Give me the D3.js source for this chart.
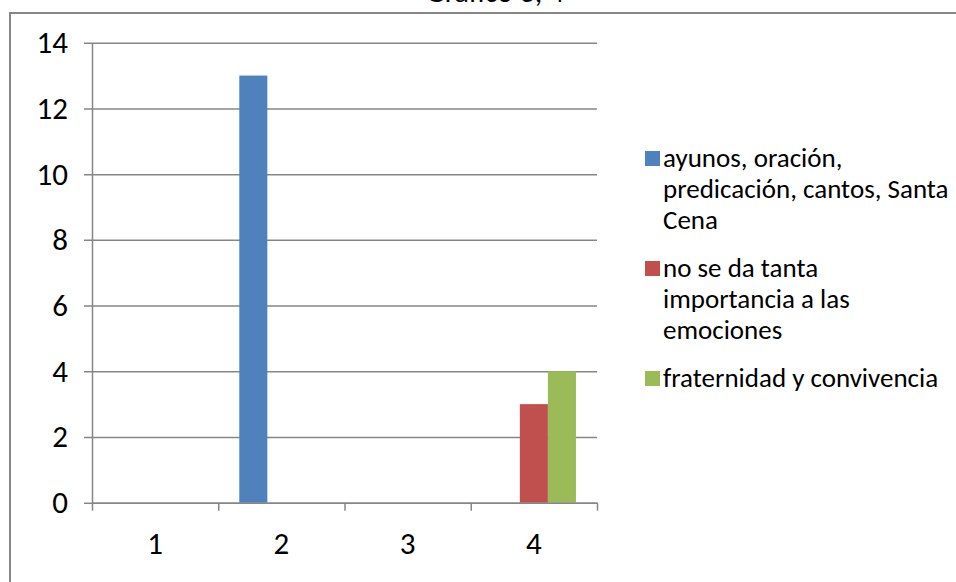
<!DOCTYPE html>
<html>
<head>
<meta charset="utf-8">
<script src="https://cdn.jsdelivr.net/npm/d3@7"></script>
<style>
  body { margin: 0; background: #fff; }
  svg { display: block; font-family: Carlito, Calibri, Lato, sans-serif; }
</style>
</head>
<body>
<script>
// Data
const title = "Gráfico 3, 4";
const categories = ["1", "2", "3", "4"];
const seriesNames = [
  ["ayunos, oración,", "predicación, cantos, Santa", "Cena"],
  ["no se da tanta", "importancia a las", "emociones"],
  ["fraternidad y convivencia"],
];
const seriesValues = [
  [0, 13, 0, 0],
  [0, 0, 0, 3],
  [0, 0, 0, 4],
];
const yTicks = [0, 2, 4, 6, 8, 10, 12, 14];
const colors = ["#4F81BD", "#C0504D", "#9BBB59"];

const width = 956;
const height = 582;
const grey = "#868686";

const svg = d3.select("body")
  .append("svg")
  .attr("width", width)
  .attr("height", height);

// chart frame, runs off the right and bottom edges
svg.append("rect")
  .attr("x", 10).attr("y", 13)
  .attr("width", 1000).attr("height", 700)
  .attr("fill", "none")
  .attr("stroke", grey)
  .attr("stroke-width", 2);

// title, mostly cut off at the top
svg.append("text")
  .attr("x", 495).attr("y", 2)
  .attr("text-anchor", "middle")
  .style("font-size", "30px")
  .attr("fill", "#000")
  .text(title);

const plot = { left: 92, right: 597, top: 42.7, bottom: 502.7 };

const x = d3.scaleBand()
  .domain(categories)
  .range([plot.left, plot.right]);

const xs = d3.scaleBand()
  .domain(d3.range(seriesValues.length))
  .range([0, x.bandwidth()])
  .paddingOuter(0.75);

const y = d3.scaleLinear()
  .domain([0, 14])
  .range([plot.bottom, plot.top]);

// y axis with gridlines
const yAxis = svg.append("g")
  .attr("transform", `translate(${plot.left},0)`)
  .call(d3.axisLeft(y)
    .tickValues(yTicks)
    .tickSizeInner(-(plot.right - plot.left))
    .tickSizeOuter(0)
    .tickPadding(24));
yAxis.select(".domain").attr("stroke", grey).attr("stroke-width", 1.5);
yAxis.selectAll(".tick line")
  .attr("x1", -8)
  .attr("stroke", grey)
  .attr("stroke-width", 1.5);
yAxis.selectAll(".tick text")
  .attr("fill", "#000")
  .style("font-size", "31px")
  .style("font-family", "Carlito, Calibri, Lato, sans-serif");

// bars
svg.append("g")
  .selectAll("g")
  .data(seriesValues)
  .join("g")
  .attr("fill", (d, i) => colors[i])
  .selectAll("rect")
  .data((vals, i) => vals.map((v, j) => ({ v, cat: categories[j], s: i })))
  .join("rect")
  .attr("x", (d) => x(d.cat) + xs(d.s))
  .attr("width", xs.bandwidth())
  .attr("y", (d) => y(d.v))
  .attr("height", (d) => y(0) - y(d.v));

// x axis: ticks at category boundaries, labels at centers
const xb = d3.scaleLinear().domain([0, categories.length]).range([plot.left, plot.right]);
const xAxis = svg.append("g")
  .attr("transform", `translate(0,${plot.bottom})`)
  .call(d3.axisBottom(xb).ticks(categories.length).tickFormat("").tickSize(8).tickSizeOuter(0));
xAxis.select(".domain").attr("stroke", grey).attr("stroke-width", 1.5);
xAxis.selectAll(".tick line").attr("stroke", grey).attr("stroke-width", 1.5);

const xLabels = svg.append("g")
  .attr("transform", `translate(0,${plot.bottom})`)
  .call(d3.axisBottom(x).tickSize(0).tickPadding(29));
xLabels.select(".domain").remove();
xLabels.selectAll(".tick text")
  .attr("fill", "#000")
  .style("font-size", "31px")
  .style("font-family", "Carlito, Calibri, Lato, sans-serif");

// legend
const lineH = 31;
const entryGap = 17;
let baseY = 167;
const legend = svg.append("g").style("font-size", "27px");
seriesNames.forEach((lines, i) => {
  legend.append("rect")
    .attr("x", 645).attr("y", baseY - 16)
    .attr("width", 15).attr("height", 15)
    .attr("fill", colors[i]);
  legend.append("text")
    .attr("fill", "#000")
    .selectAll("tspan")
    .data(lines)
    .join("tspan")
    .attr("x", 663)
    .attr("y", (d, k) => baseY + k * lineH)
    .text((d) => d);
  baseY += lines.length * lineH + entryGap;
});
</script>
</body>
</html>
